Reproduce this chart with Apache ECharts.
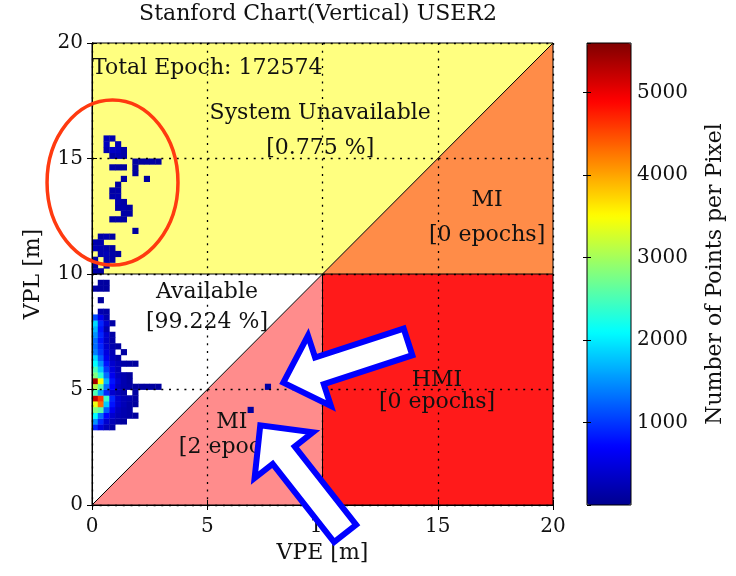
<!DOCTYPE html>
<html>
<head>
<meta charset="utf-8">
<title>Stanford Chart(Vertical) USER2</title>
<script src="https://cdn.jsdelivr.net/npm/echarts@6/dist/echarts.min.js"></script>
<style>
  html, body { margin: 0; padding: 0; background: #fff; }
  #chart { width: 736px; height: 576px; }
</style>
</head>
<body>
<div id="chart"></div>
<script>
const titleText = "Stanford Chart(Vertical) USER2";
const totalEpochs = 172574;
const alertLimit = 10;      // VAL [m]
const axisMax = 20;
const axisInterval = 5;
const binSize = 0.25;       // m per pixel of the histogram
const colorbarMax = 5600;
const colorbarInterval = 1000;

// region summaries: upper-left, upper-right, lower-right, lower-middle, lower-left
const regionNames = ["System Unavailable", "MI", "HMI", "MI", "Available"];
const regionStats = ["[0.775 %]", "[0 epochs]", "[0 epochs]", "[2 epochs]", "[99.224 %]"];

// 2D histogram, rows of [row, firstCol, counts] (bins of binSize, 0 = empty)
const lowerBins = [
  [13, 0, [900, 500, 250, 150]],
  [14, 0, [1500, 900, 400, 250, 150, 100]],
  [15, 0, [2100, 1300, 700, 400, 250, 200, 150, 100]],
  [16, 0, [2800, 2600, 1200, 600, 300, 200, 150]],
  [17, 0, [3400, 4300, 1800, 800, 400, 250, 150, 100]],
  [18, 0, [5200, 4600, 2400, 900, 400, 250, 200, 120]],
  [19, 0, [2500, 1600, 900, 400, 250, 150, 0, 120]],
  [20, 0, [3100, 2600, 1300, 700, 300, 200, 150, 100, 100, 100, 100, 100]],
  [21, 0, [5400, 3500, 1700, 800, 400, 200, 120]],
  [22, 0, [2800, 2300, 1300, 600, 300, 200, 100]],
  [23, 0, [2500, 1800, 1000, 500, 250]],
  [24, 0, [2100, 1500, 800, 400, 250, 150, 120, 100]],
  [25, 0, [1900, 1200, 600, 300, 150]],
  [26, 0, [1400, 1000, 500, 250, 0, 120]],
  [27, 0, [1300, 900, 400, 200, 120]],
  [28, 0, [1300, 800, 350, 150]],
  [29, 0, [1500, 900, 400, 150]],
  [30, 0, [1700, 800, 200]],
  [31, 0, [1900, 900, 400, 150]],
  [32, 0, [1100, 600, 200]],
  [33, 1, [200, 150]],
  [35, 1, [100]],
  [37, 0, [150, 120, 100]],
  [38, 1, [120, 100]]
];
const upperBins = [
  [40, 0, [150, 120]],
  [41, 0, [120, 0, 100]],
  [42, 0, [150, 0, 200, 150]],
  [43, 1, [200, 250, 150, 100]],
  [44, 0, [250, 200, 180, 120]],
  [45, 0, [200, 180]],
  [46, 1, [150, 200, 120]],
  [47, 7, [100]],
  [49, 3, [120, 150, 120]],
  [50, 5, [150, 120]],
  [51, 4, [150, 180, 120]],
  [52, 4, [200, 150]],
  [53, 3, [180, 200]],
  [54, 3, [150, 160]],
  [55, 4, [120]],
  [56, 5, [110, 0, 0, 0, 100]],
  [57, 7, [100]],
  [58, 3, [150, 120, 100, 0, 100]],
  [59, 7, [120, 100, 110, 120, 100]],
  [60, 3, [150, 220, 150]],
  [61, 2, [200, 350, 300, 150]],
  [62, 2, [300, 0, 250]],
  [63, 2, [250, 200]]
];
// the two epochs inside the lower MI triangle
const miBins = [
  [16, 27, [120]],
  [20, 30, [130]]
];

// ---- layout (data coordinates) ----
const labelAnchors = [
  [9.9, 16.95, 9.9, 15.45],
  [17.14, 13.2, 17.14, 11.69],
  [14.97, 5.41, 14.97, 4.46],
  [6.07, 3.59, 6.29, 2.51],
  [4.99, 9.22, 4.99, 7.92]
];
const epochAnchor = [0, 18.92];
const ringAnnot = [[0.89, 13.96, 2.84, 3.57]];            // cx, cy, rx, ry
const arrowAnnot = [[8.3, 5.3, 13.71, 7.06], [7.3, 3.45, 10.98, -1.23]]; // tip, tail

const L = alertLimit, M = axisMax;
const regionVerts = [
  [[0, L], [0, M], [M, M], [L, L]],
  [[L, L], [M, M], [M, L]],
  [[L, 0], [M, 0], [M, L], [L, L]],
  [[0, 0], [L, 0], [L, L]],
  [[0, 0], [L, L], [0, L]]
];
const regionColors = ["#ffff80", "#ff8c48", "#ff1a1a", "#ff8c8c", "#ffffff"];
const limitLines = [[0, 0, M, M], [0, L, M, L], [L, 0, L, L]];

const jet = ["#00008f", "#0000ff", "#0080ff", "#00ffff", "#80ff80",
             "#ffff00", "#ff8000", "#ff0000", "#800000"];
const FONT = "DejaVu Serif";
const INK = "#111";

function flattenBins(bins) {
  const out = [];
  bins.forEach(([row, col0, counts]) => {
    counts.forEach((c, k) => {
      if (c > 0) out.push([(col0 + k) * binSize, row * binSize, c]);
    });
  });
  return out;
}
const heatData = [].concat(flattenBins(lowerBins), flattenBins(upperBins), flattenBins(miBins));

const chart = echarts.init(document.getElementById("chart"));

const tickLabel = { fontFamily: FONT, fontSize: 20, color: INK };
const dotted = { color: "#000", width: 1.3, type: [2, 5.7] };

const option = {
  animation: false,
  graphic: [{
    type: "text", x: 318, y: 3, silent: true,
    style: { text: titleText, fontFamily: FONT, fontSize: 22, fill: INK, textAlign: "center", textVerticalAlign: "top" }
  }],
  grid: [
    { left: 92, top: 43, width: 461, height: 462, show: true, borderColor: "#000", borderWidth: 1, backgroundColor: "transparent", z: 4 },
    { left: 587, top: 43, width: 44, height: 462, show: true, borderColor: "#000", borderWidth: 1, backgroundColor: "transparent", z: 6 }
  ],
  xAxis: [
    {
      type: "value", gridIndex: 0, min: 0, max: axisMax, interval: axisInterval, z: 3,
      name: "VPE [m]", nameLocation: "middle", nameGap: 33,
      nameTextStyle: { fontFamily: FONT, fontSize: 22, color: INK },
      axisLine: { lineStyle: { color: "#000" } },
      axisTick: { inside: true, length: 5, lineStyle: { color: "#000" } },
      axisLabel: Object.assign({ margin: 12 }, tickLabel),
      splitLine: { show: true, lineStyle: dotted }
    },
    {
      type: "value", gridIndex: 0, position: "top", min: 0, max: axisMax, interval: axisInterval, z: 3,
      axisLine: { lineStyle: { color: "#000" } },
      axisTick: { inside: true, length: 5, lineStyle: { color: "#000" } },
      axisLabel: { show: false }, splitLine: { show: false }
    },
    { type: "value", gridIndex: 1, min: 0, max: 1, show: false }
  ],
  yAxis: [
    {
      type: "value", gridIndex: 0, min: 0, max: axisMax, interval: axisInterval, z: 3,
      name: "VPL [m]", nameLocation: "middle", nameGap: 48,
      nameTextStyle: { fontFamily: FONT, fontSize: 22, color: INK },
      axisLine: { lineStyle: { color: "#000" } },
      axisTick: { inside: true, length: 5, lineStyle: { color: "#000" } },
      axisLabel: Object.assign({ margin: 9 }, tickLabel),
      splitLine: { show: true, lineStyle: dotted }
    },
    {
      type: "value", gridIndex: 0, position: "right", min: 0, max: axisMax, interval: axisInterval, z: 3,
      axisLine: { lineStyle: { color: "#000" } },
      axisTick: { inside: true, length: 5, lineStyle: { color: "#000" } },
      axisLabel: { show: false }, splitLine: { show: false }
    },
    {
      type: "value", gridIndex: 1, position: "right", min: 0, max: colorbarMax, interval: colorbarInterval, z: 6,
      name: "Number of Points per Pixel", nameLocation: "middle", nameGap: 73, nameRotate: 90,
      nameTextStyle: { fontFamily: FONT, fontSize: 22, color: INK },
      axisLine: { show: false },
      axisTick: { inside: true, length: 4, lineStyle: { color: "#000" } },
      axisLabel: Object.assign({
        margin: 6, showMinLabel: false, showMaxLabel: false,
        formatter: v => (v === 0 || v === colorbarMax ? "" : String(v))
      }, tickLabel),
      splitLine: { show: false }
    },
    {
      type: "value", gridIndex: 1, position: "left", min: 0, max: colorbarMax, interval: colorbarInterval, z: 6,
      axisLine: { show: false },
      axisTick: { inside: true, length: 4, lineStyle: { color: "#000" } },
      axisLabel: { show: false }, splitLine: { show: false }
    }
  ],
  visualMap: {
    type: "continuous", seriesIndex: 1, dimension: 2,
    min: 0, max: colorbarMax, calculable: false, hoverLink: false,
    orient: "vertical", left: 587, top: 43, itemWidth: 44, itemHeight: 462, padding: 0,
    inRange: { color: jet }
  },
  series: [
    {
      name: "regions", type: "custom", z: 1, silent: true,
      data: regionVerts.map((_, i) => [i]),
      renderItem: (params, api) => ({
        type: "polygon",
        shape: { points: regionVerts[params.dataIndex].map(p => api.coord(p)) },
        style: { fill: regionColors[params.dataIndex] }
      })
    },
    {
      name: "epochs", type: "custom", z: 2, silent: true,
      encode: { x: 0, y: 1 },
      data: heatData,
      renderItem: (params, api) => {
        const p = api.coord([api.value(0), api.value(1) + binSize]);
        const s = api.size([binSize, binSize]);
        return {
          type: "rect",
          shape: { x: p[0], y: p[1], width: s[0] + 0.4, height: s[1] + 0.4 },
          style: { fill: api.visual("color") }
        };
      }
    },
    {
      name: "limits", type: "custom", z: 5, silent: true,
      data: limitLines,
      renderItem: (params, api) => {
        const a = api.coord([api.value(0), api.value(1)]);
        const b = api.coord([api.value(2), api.value(3)]);
        return { type: "line", shape: { x1: a[0], y1: a[1], x2: b[0], y2: b[1] }, style: { stroke: "#000", lineWidth: 1 } };
      }
    },
    {
      name: "labels", type: "custom", z: 6, silent: true,
      data: labelAnchors,
      renderItem: (params, api) => {
        const i = params.dataIndex;
        const a = api.coord([api.value(0), api.value(1)]);
        const b = api.coord([api.value(2), api.value(3)]);
        const st = { fontFamily: FONT, fontSize: 22, fill: INK, textAlign: "center", textVerticalAlign: "middle" };
        return {
          type: "group",
          children: [
            { type: "text", style: Object.assign({ text: regionNames[i], x: a[0], y: a[1] }, st) },
            { type: "text", style: Object.assign({ text: regionStats[i], x: b[0], y: b[1] }, st) }
          ]
        };
      }
    },
    {
      name: "total", type: "custom", z: 6, silent: true,
      data: [epochAnchor],
      renderItem: (params, api) => {
        const a = api.coord([api.value(0), api.value(1)]);
        return {
          type: "text",
          style: { text: "Total Epoch: " + totalEpochs, x: a[0], y: a[1], fontFamily: FONT, fontSize: 22, fill: INK, textAlign: "left", textVerticalAlign: "middle" }
        };
      }
    },
    {
      name: "ring", type: "custom", z: 10, silent: true, clip: false,
      data: ringAnnot,
      renderItem: (params, api) => {
        const c = api.coord([api.value(0), api.value(1)]);
        const s = api.size([api.value(2), api.value(3)]);
        return {
          type: "ellipse",
          shape: { cx: c[0], cy: c[1], rx: s[0], ry: s[1] },
          style: { fill: "none", stroke: "#ff3a10", lineWidth: 3.5 }
        };
      }
    },
    {
      name: "arrows", type: "custom", z: 11, silent: true, clip: false,
      data: arrowAnnot,
      renderItem: (params, api) => {
        const t = api.coord([api.value(0), api.value(1)]);
        const b = api.coord([api.value(2), api.value(3)]);
        const len = Math.hypot(b[0] - t[0], b[1] - t[1]);
        const d = [(b[0] - t[0]) / len, (b[1] - t[1]) / len];
        const n = [-d[1], d[0]];
        const headLen = 38, headHalf = 37, shaftHalf = 14;
        const at = (base, along, side) => [base[0] + d[0] * along + n[0] * side, base[1] + d[1] * along + n[1] * side];
        const pts = [
          t,
          at(t, headLen, headHalf),
          at(t, headLen, shaftHalf),
          at(b, 0, shaftHalf),
          at(b, 0, -shaftHalf),
          at(t, headLen, -shaftHalf),
          at(t, headLen, -headHalf)
        ];
        return {
          type: "polygon",
          shape: { points: pts },
          style: { fill: "#fff", stroke: "#0000ff", lineWidth: 6, lineJoin: "miter" }
        };
      }
    }
  ]
};

chart.setOption(option);
</script>
</body>
</html>
